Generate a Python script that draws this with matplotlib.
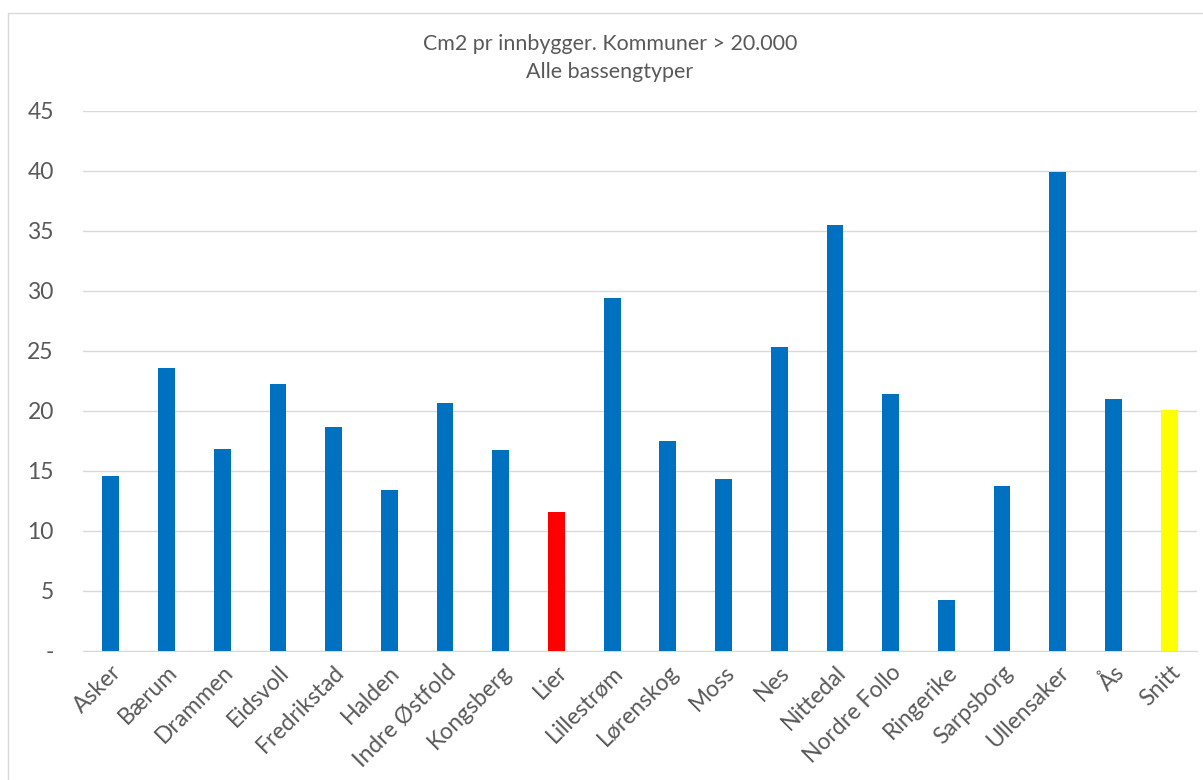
import matplotlib.pyplot as plt
from matplotlib.patches import Rectangle
from matplotlib.transforms import ScaledTranslation

plt.rcParams['font.family'] = ['Lato', 'DejaVu Sans']

kommuner = ["Asker", "Bærum", "Drammen", "Eidsvoll", "Fredrikstad", "Halden",
            "Indre Østfold", "Kongsberg", "Lier", "Lillestrøm", "Lørenskog", "Moss",
            "Nes", "Nittedal", "Nordre Follo", "Ringerike", "Sarpsborg", "Ullensaker",
            "Ås", "Snitt"]
cm2 = [14.55, 23.55, 16.8, 22.25, 18.6, 13.35, 20.6, 16.7, 11.55, 29.4,
       17.45, 14.3, 25.3, 35.5, 21.35, 4.25, 13.75, 39.9, 21.0, 20.05]
farger = ["#0070C0"] * len(kommuner)
farger[kommuner.index("Lier")] = "#FF0000"
farger[kommuner.index("Snitt")] = "#FFFF00"

yticks = [0, 5, 10, 15, 20, 25, 30, 35, 40, 45]
ylabels = ["-"] + [str(v) for v in yticks[1:]]

fig = plt.figure(figsize=(12.03, 7.8), dpi=100)
# ramme rundt diagrammet
fig.patches.append(Rectangle((8 / 1203, -0.01), 1.05, 1 - 13 / 780 + 0.01,
                             transform=fig.transFigure, fill=False,
                             edgecolor="#D9D9D9", linewidth=1))
ax = fig.add_axes([83 / 1203, 1 - 650.5 / 780, (1197 - 83) / 1203, 540 / 780])

x = range(len(kommuner))
ax.bar(x, cm2, width=0.3, color=farger, zorder=3)

ax.set_xlim(-0.5, len(kommuner) - 0.5)
ax.set_ylim(0, 45)
ax.set_yticks(yticks)
ax.set_yticklabels(ylabels)
ax.set_xticks(list(x))
ax.set_xticklabels(kommuner, rotation=45, ha="right", va="top", rotation_mode="anchor")
flytt = ScaledTranslation(6 / 100, 0, fig.dpi_scale_trans)
for lab in ax.get_xticklabels():
    lab.set_transform(lab.get_transform() + flytt)
ax.grid(axis="y", color="#D9D9D9", linewidth=1, zorder=0)
for s in ["top", "right", "left"]:
    ax.spines[s].set_visible(False)
ax.spines["bottom"].set_color("#D9D9D9")
ax.tick_params(axis="both", length=0, labelsize=16.5, colors="#595959")
ax.tick_params(axis="y", pad=21)
ax.tick_params(axis="x", pad=8)

fig.text(0.507, 1 - 44 / 780, "Cm2 pr innbygger. Kommuner > 20.000",
         ha="center", va="center", fontsize=15.4, color="#595959")
fig.text(0.507, 1 - 72 / 780, "Alle bassengtyper",
         ha="center", va="center", fontsize=15.4, color="#595959")

fig.savefig("out.png", dpi=100)
